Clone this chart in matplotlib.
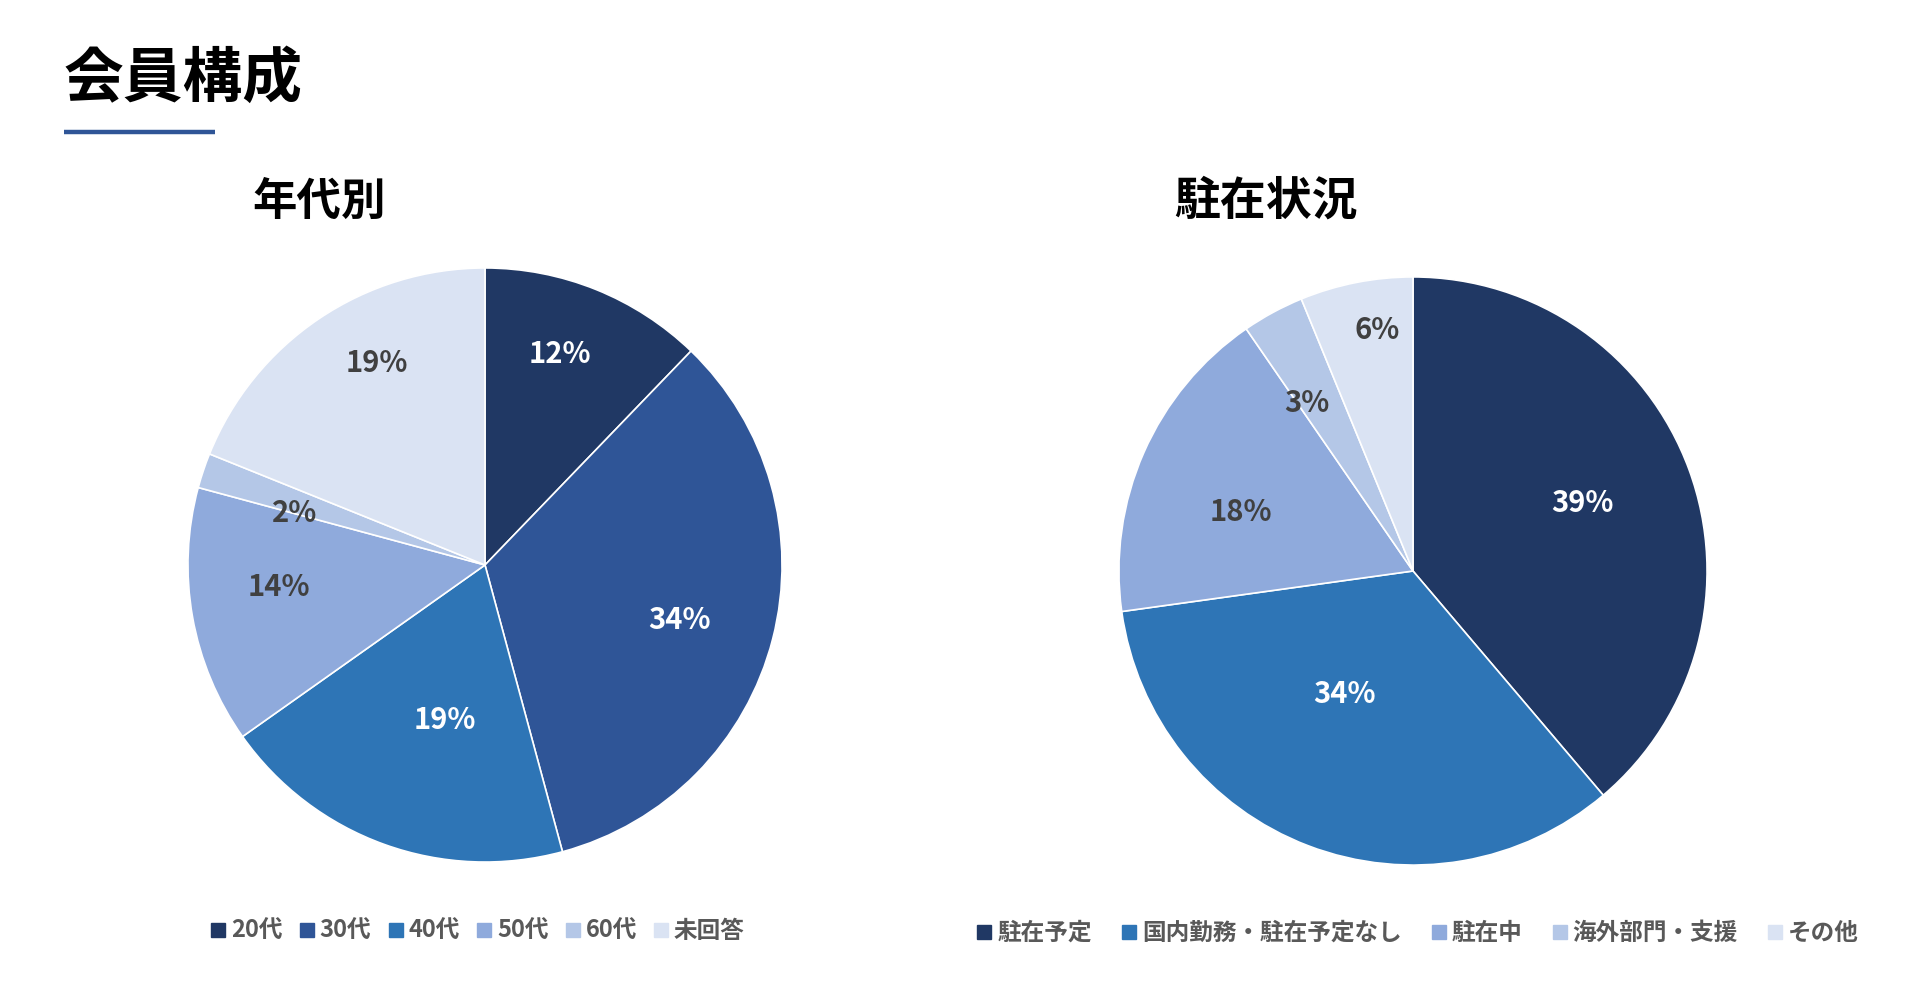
import numpy as np
import matplotlib
matplotlib.use("Agg")
import matplotlib.pyplot as plt
from matplotlib.lines import Line2D

plt.rcParams["font.family"] = ["Noto Sans CJK JP", "DejaVu Sans"]

# ── Data ────────────────────────────────────────────────────────────────────
TITLE = "会員構成"

AGE_TITLE  = "年代別"
AGE_LABELS = ["20代", "30代", "40代", "50代", "60代", "未回答"]
AGE_VALUES = [12.2, 33.6, 19.4, 14.0, 1.9, 18.9]

STAY_TITLE  = "駐在状況"
STAY_LABELS = ["駐在予定", "国内勤務・駐在予定なし", "駐在中", "海外部門・支援", "その他"]
STAY_VALUES = [38.8, 34.0, 17.6, 3.4, 6.2]

# ── Styles ──────────────────────────────────────────────────────────────────
AGE_COLORS  = ["#203864", "#2F5597", "#2E75B6", "#8FAADC", "#B4C7E7", "#DAE3F3"]
STAY_COLORS = ["#203864", "#2E75B6", "#8FAADC", "#B4C7E7", "#DAE3F3"]
AGE_TXT     = ["white", "white", "white", "#404040", "#404040", "#404040"]
STAY_TXT    = ["white", "white", "#404040", "#404040", "#404040"]
# label placement: distance from centre (radius units), angle shift (deg, clockwise)
AGE_DIST    = [0.754, 0.681, 0.538, 0.698, 0.664, 0.771]
AGE_SHIFT   = [-2.5, 1.3, -5.1, 3.9, -3.3, 5.8]
STAY_DIST   = [0.62, 0.478, 0.617, 0.676, 0.83]
STAY_SHIFT  = [-1.9, 8.3, -4.9, -4.0, 2.8]

W, H = 1920, 1005
fig = plt.figure(figsize=(W / 100, H / 100), dpi=100)
fig.patch.set_facecolor("white")


def pie_axes(cx, cy, r):
    return fig.add_axes([(cx - r) / W, (H - cy - r) / H, 2 * r / W, 2 * r / H])


def draw_pie(ax, values, colors, txt_colors, dists, shifts):
    wedges, _ = ax.pie(values, colors=colors, startangle=90, counterclock=False,
                       wedgeprops=dict(edgecolor="white", linewidth=1.2))
    total = sum(values)
    for w, v, tc, d, s in zip(wedges, values, txt_colors, dists, shifts):
        ang = np.deg2rad((w.theta1 + w.theta2) / 2 - s)
        ax.text(d * np.cos(ang), d * np.sin(ang), f"{round(v / total * 100):.0f}%",
                ha="center", va="center", color=tc, fontsize=21, fontweight="bold")
    ax.set_xlim(-1.01, 1.01)
    ax.set_ylim(-1.01, 1.01)
    ax.set_aspect("equal")
    ax.axis("off")
    return wedges


def add_legend(labels, colors, x_center, y_center, colspace):
    handles = [Line2D([], [], marker="s", linestyle="none", markersize=10,
                      markerfacecolor=c, markeredgecolor=c) for c in colors]
    leg = fig.legend(handles, labels, loc="center", ncol=len(labels),
                     bbox_to_anchor=(x_center / W, 1 - y_center / H),
                     frameon=False, handlelength=0.6, handletextpad=0.25,
                     columnspacing=colspace, borderaxespad=0,
                     prop=dict(size=17, weight="bold"))
    for t in leg.get_texts():
        t.set_color("#595959")


# left pie
ax1 = pie_axes(485, 565, 300)
draw_pie(ax1, AGE_VALUES, AGE_COLORS, AGE_TXT, AGE_DIST, AGE_SHIFT)

# right pie
ax2 = pie_axes(1413, 571, 297)
draw_pie(ax2, STAY_VALUES, STAY_COLORS, STAY_TXT, STAY_DIST, STAY_SHIFT)

# headings
fig.text(64 / W, 1 - 80 / H, TITLE, fontsize=43, fontweight="bold",
         ha="left", va="center", color="black")
fig.add_artist(Line2D([64 / W, 215 / W], [1 - 132 / H, 1 - 132 / H],
                      color="#2F5597", linewidth=3.2, solid_capstyle="butt"))
fig.text(319 / W, 1 - 202 / H, AGE_TITLE, fontsize=32, fontweight="bold",
         ha="center", va="center", color="black")
fig.text(1266 / W, 1 - 202 / H, STAY_TITLE, fontsize=33, fontweight="bold",
         ha="center", va="center", color="black")

add_legend(AGE_LABELS, AGE_COLORS, 478, 931, 0.72)
add_legend(STAY_LABELS, STAY_COLORS, 1418, 933, 1.27)

fig.savefig("out.png", dpi=100, facecolor="white")
